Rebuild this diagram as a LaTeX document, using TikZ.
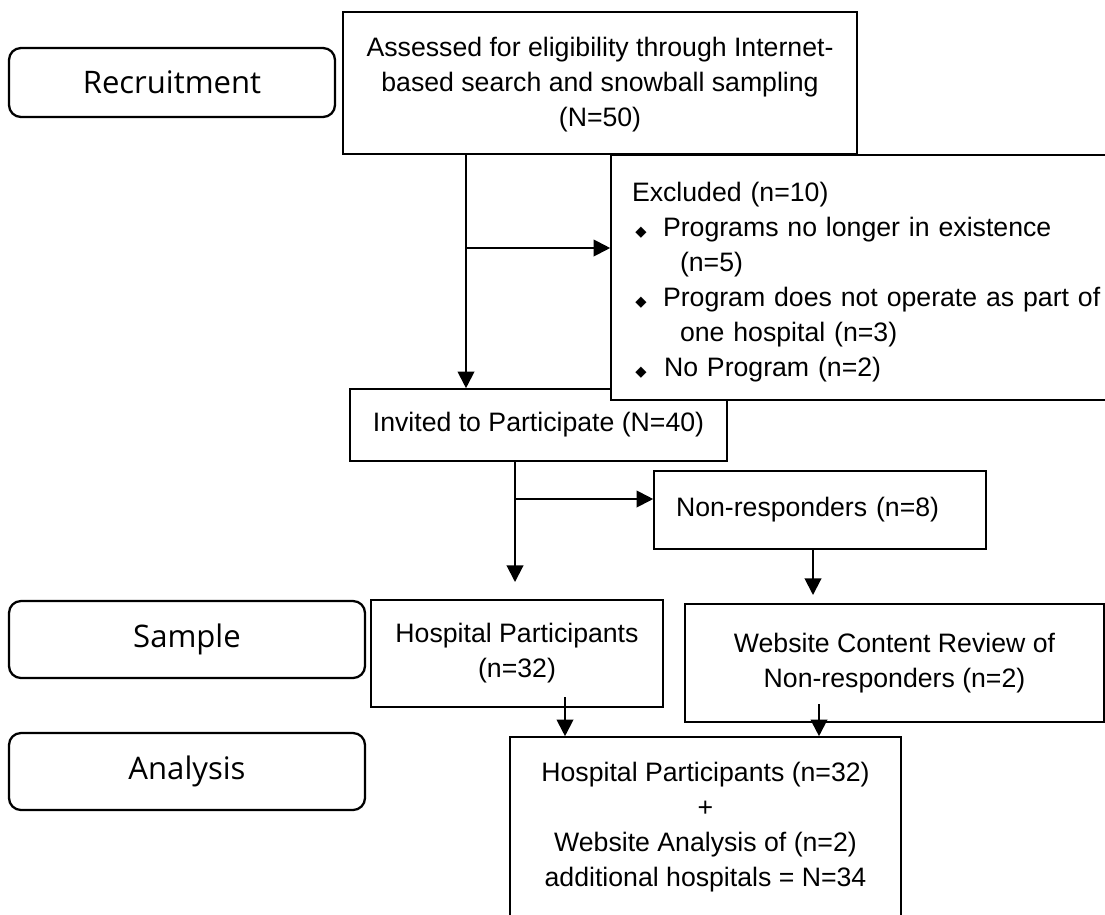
\documentclass[tikz,border=0pt]{standalone}
\usepackage{fontspec}
\setmainfont{Liberation Sans}
\newfontfamily\lblfont{Open Sans}
\newfontfamily\symfont{DejaVu Sans}
\usetikzlibrary{arrows.meta}
\newcommand{\bul}{{\symfont\fontsize{11}{11}\selectfont ◆}}
\newcommand{\bitem}{\hspace*{2.5pt}\makebox[20.75pt][l]{\bul}}
\begin{document}
\begin{tikzpicture}[x=0.75pt,y=-0.75pt,
  sz/.style 2 args={minimum width=#1*0.75pt,minimum height=#2*0.75pt},
  box/.style={draw, line width=1.2pt, fill=white, inner sep=0pt, font=\fontsize{20}{26.25}\selectfont, align=center},
  lbl/.style={draw, line width=1.7pt, rounded corners=9pt, inner sep=0pt, font=\lblfont\fontsize{23.3}{28}\selectfont},
  arr/.style={line width=1.5pt, -{Triangle[length=12.5pt,width=12.5pt]}}]
\useasboundingbox (0,0) rectangle (1105,914);
\fill[white] (0,0) rectangle (1105,914);

% stage labels
\node[lbl, sz={326}{69}] (rec) at (172,82.5) {Recruitment};
\node[lbl, sz={356}{77}] (sam) at (187,639.5) {Sample};
\node[lbl, sz={356}{77}] (ana) at (187,771.5) {Analysis};

% flow boxes
\node[box, sz={514}{142}] (top) at (600,83) {\rule{0pt}{17pt}Assessed for eligibility through Internet-\\based search and snowball sampling\\(N=50)};
\node[box, sz={377}{72}] (inv) at (538.5,425) {Invited to Participate (N=40)};
\node[box, align=left, text width=418.5pt, inner xsep=15.75pt, sz={600}{245}] (exc) at (911,277.5)
  {\rule{0pt}{22pt}Excluded (n=10)\\
   \bitem Programs no longer in existence\\
   \hspace*{36pt}(n=5)\\
   \bitem Program does not operate as part of\\
   \hspace*{36pt}one hospital (n=3)\\
   \bitem\hspace*{0.75pt}No Program (n=2)};
\node[box, align=left, text width=216pt, inner xsep=16.5pt, sz={332}{78}] (non) at (820,510) {Non-responders (n=8)};
\node[box, sz={292}{107}] (hosp) at (517,653.5) {Hospital Participants\\(n=32)};
\node[box, sz={419}{118}] (web) at (894.5,663) {Website Content Review of\\Non-responders (n=2)};
\node[box, sz={391}{181}] (fin) at (705.5,827.5) {Hospital Participants (n=32)\\+\\Website Analysis of (n=2)\\additional hospitals = N=34};

% connectors
\coordinate (j1) at (466,248);
\draw[arr] (top.south -| j1) -- (inv.north -| j1);
\draw[arr] (j1) -- (exc.west |- j1);
\coordinate (j2) at (515,499);
\coordinate (e2) at (515,582);
\draw[arr] (inv.south -| j2) -- (e2);
\draw[arr] (j2) -- (non.west |- j2);
\coordinate (e3) at (813,595);
\draw[arr] (non.south -| e3) -- (e3);
\coordinate (s4) at (565,697);
\draw[arr] (s4) -- (fin.north -| s4);
\coordinate (s5) at (819,704);
\draw[arr] (s5) -- (fin.north -| s5);
\end{tikzpicture}
\end{document}
